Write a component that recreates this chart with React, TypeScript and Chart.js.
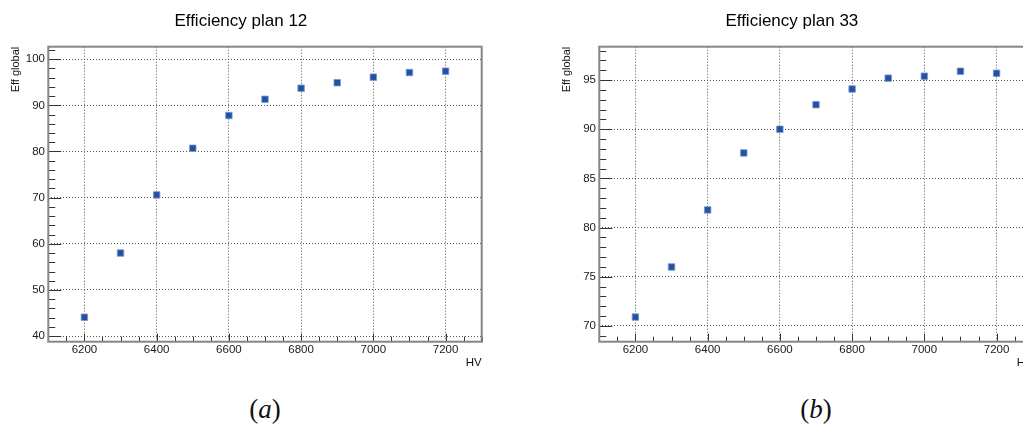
import React, { useEffect, useRef } from "react";
import { Chart, registerables } from "chart.js";

Chart.register(...registerables);

// ---- data ----
const HV = [6200, 6300, 6400, 6500, 6600, 6700, 6800, 6900, 7000, 7100, 7200];
const EFF_PLAN12 = [44.1, 58.0, 70.6, 80.7, 87.8, 91.3, 93.7, 94.9, 96.1, 97.1, 97.4];
const EFF_PLAN33 = [70.9, 76.0, 81.8, 87.6, 90.0, 92.5, 94.1, 95.2, 95.4, 95.9, 95.7];

const X_TICKS = [6200, 6400, 6600, 6800, 7000, 7200];
const X_RANGE = [6100, 7300];
const Y_TICKS_12 = [40, 50, 60, 70, 80, 90, 100];
const Y_RANGE_12 = [38.8, 102.7];
const Y_TICKS_33 = [70, 75, 80, 85, 90, 95];
const Y_RANGE_33 = [68.4, 98.4];

const TITLE_12 = "Efficiency plan 12";
const TITLE_33 = "Efficiency plan 33";
const X_TITLE = "HV";
const Y_TITLE = "Eff global";

const FONT = "'Liberation Sans', Arial, Helvetica, sans-serif";

const rootFrame = {
  id: "rootFrame",
  afterDraw(chart: any, _args: any, opts: any) {
    const { ctx, chartArea: a } = chart;
    const x = chart.scales.x;
    const y = chart.scales.y;
    ctx.save();
    ctx.strokeStyle = "#333";
    ctx.lineWidth = 1;
    ctx.beginPath();
    // x ticks (inside, from bottom)
    for (let v = Math.ceil(x.min / opts.xMinorStep) * opts.xMinorStep; v <= x.max; v += opts.xMinorStep) {
      const px = Math.round(x.getPixelForValue(v)) + 0.5;
      const isMajor = opts.xMajor.includes(v);
      ctx.moveTo(px, a.bottom);
      ctx.lineTo(px, a.bottom - (isMajor ? 8 : 5));
    }
    for (let v = Math.ceil(y.min / opts.yMinorStep) * opts.yMinorStep; v <= y.max; v += opts.yMinorStep) {
      const py = Math.round(y.getPixelForValue(v)) + 0.5;
      const isMajor = opts.yMajor.includes(v);
      ctx.moveTo(a.left, py);
      ctx.lineTo(a.left + (isMajor ? 13 : 7), py);
    }
    ctx.stroke();
    ctx.strokeStyle = "#868686";
    ctx.lineWidth = 2;
    ctx.strokeRect(a.left, a.top, a.right - a.left, a.bottom - a.top);
    ctx.restore();
  },
};

type PanelProps = {
  left: number;
  title: string;
  values: number[];
  yTicks: number[];
  yRange: number[];
  yMinorStep: number;
};

function Panel({ left, title, values, yTicks, yRange, yMinorStep }: PanelProps) {
  const ref = useRef<HTMLCanvasElement | null>(null);
  useEffect(() => {
    if (!ref.current) return;
    const chart = new Chart(ref.current, {
      type: "scatter",
      data: {
        datasets: [
          {
            data: HV.map((h, i) => ({ x: h, y: values[i] })),
            pointStyle: "rect",
            pointRadius: 4.6,
            pointBackgroundColor: "#2551a3",
            pointBorderColor: "#7f9ad0",
            pointBorderWidth: 0.8,
            showLine: false,
          },
        ],
      },
      options: {
        responsive: false,
        animation: false,
        events: [],
        layout: { padding: { left: 0, right: 48.3, top: 0, bottom: 10.7 } },
        plugins: {
          legend: { display: false },
          tooltip: { enabled: false },
          title: {
            display: true,
            text: title,
            color: "#000",
            font: { family: FONT, size: 17, weight: "normal" },
            padding: { top: 10.8, bottom: 15.5 },
          },
          rootFrame: { xMajor: X_TICKS, xMinorStep: 50, yMajor: yTicks, yMinorStep },
        } as any,
        scales: {
          x: {
            type: "linear",
            min: X_RANGE[0],
            max: X_RANGE[1],
            afterBuildTicks: (s: any) => {
              s.ticks = X_TICKS.map((value) => ({ value }));
            },
            afterFit: (s: any) => {
              s.height = 27.6;
            },
            ticks: {
              autoSkip: false,
              maxRotation: 0,
              padding: 1.5,
              color: "#1a1a1a",
              font: { family: FONT, size: 11.5 },
              callback: (v: any) => String(v),
            },
            grid: { drawTicks: false, color: "#555", lineWidth: 1 },
            border: { display: false, dash: [1, 2] },
            title: {
              display: true,
              text: X_TITLE,
              align: "end",
              color: "#111",
              font: { family: FONT, size: 11.5 },
              padding: { top: 0, bottom: 0 },
            },
          },
          y: {
            type: "linear",
            min: yRange[0],
            max: yRange[1],
            afterBuildTicks: (s: any) => {
              s.ticks = yTicks.map((value) => ({ value }));
            },
            afterFit: (s: any) => {
              s.width = 48.3;
            },
            ticks: {
              autoSkip: false,
              padding: 3.3,
              color: "#1a1a1a",
              font: { family: FONT, size: 11.5 },
              callback: (v: any) => String(v),
            },
            grid: { drawTicks: false, color: "#555", lineWidth: 1 },
            border: { display: false, dash: [1, 2] },
            title: {
              display: true,
              text: Y_TITLE,
              align: "end",
              color: "#111",
              font: { family: FONT, size: 11 },
              padding: { top: 9.4, bottom: 0 },
            },
          },
        },
      } as any,
      plugins: [rootFrame],
    });
    return () => chart.destroy();
  }, [title, values, yTicks, yRange, yMinorStep]);

  return (
    <canvas
      ref={ref}
      width={530}
      height={380}
      style={{ position: "absolute", left, top: 0, width: 530, height: 380 }}
    />
  );
}

const captionStyle = (cx: number): React.CSSProperties => ({
  position: "absolute",
  left: cx - 50,
  width: 100,
  top: 394,
  height: 32,
  lineHeight: "30px",
  textAlign: "center",
  fontFamily: "'Liberation Serif', 'DejaVu Serif', serif",
  fontSize: 27,
  color: "#111",
});

export default function App() {
  return (
    <div
      style={{
        position: "absolute",
        left: 0,
        top: 0,
        width: 1023,
        height: 424,
        overflow: "hidden",
        background: "#fff",
      }}
    >
      <Panel left={0} title={TITLE_12} values={EFF_PLAN12} yTicks={Y_TICKS_12} yRange={Y_RANGE_12} yMinorStep={2} />
      <Panel left={550.7} title={TITLE_33} values={EFF_PLAN33} yTicks={Y_TICKS_33} yRange={Y_RANGE_33} yMinorStep={1} />
      <div style={captionStyle(265)}>
        (<i>a</i>)
      </div>
      <div style={captionStyle(816)}>
        (<i>b</i>)
      </div>
    </div>
  );
}
